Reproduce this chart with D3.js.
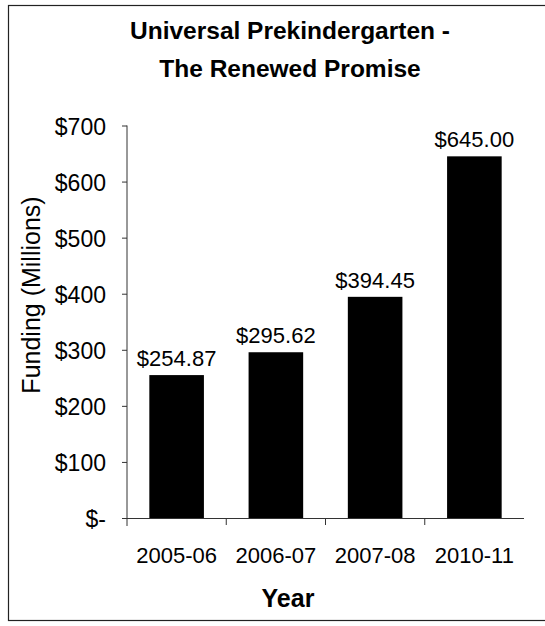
<!DOCTYPE html>
<html>
<head>
<meta charset="utf-8">
<script src="https://cdn.jsdelivr.net/npm/d3@7"></script>
<style>
  body { margin: 0; background: #fff; }
  text { font-family: "Liberation Sans", Arial, sans-serif; fill: #000; }
</style>
</head>
<body>
<svg id="chart" width="545" height="626"></svg>
<script>
const years = ['2005-06', '2006-07', '2007-08', '2010-11']
const funding = [254.87, 295.62, 394.45, 645.00]
const yTicks = [0, 100, 200, 300, 400, 500, 600, 700]

const data = years.map((y, i) => ({ year: y, value: funding[i] }))

const svg = d3.select('#chart')

// frame round the chart (right edge falls outside the picture)
svg.append('rect')
  .attr('x', 8.5).attr('y', 5.5)
  .attr('width', 560).attr('height', 615)
  .attr('fill', 'none').attr('stroke', '#222').attr('stroke-width', 1.2)

const x = d3.scaleBand()
  .domain(years)
  .range([127, 524])
  .paddingInner(0.45)
  .paddingOuter(0.225)

const y = d3.scaleLinear()
  .domain([0, 700])
  .range([518, 125.5])

// title
const title = ['Universal Prekindergarten -', 'The Renewed Promise']
svg.selectAll('.title')
  .data(title)
  .enter()
  .append('text')
    .attr('class', 'title')
    .attr('x', 290)
    .attr('y', (d, i) => 39 + i * 38)
    .attr('text-anchor', 'middle')
    .style('font-size', '24.5px').style('font-weight', 'bold')
    .text((d) => d)

// bars
svg.selectAll('.bar')
  .data(data)
  .enter()
  .append('rect')
    .attr('class', 'bar')
    .attr('x', (d) => x(d.year))
    .attr('y', (d) => y(d.value))
    .attr('width', x.bandwidth())
    .attr('height', (d) => y(0) - y(d.value))
    .attr('fill', '#000')

// value labels
svg.selectAll('.value')
  .data(data)
  .enter()
  .append('text')
    .attr('class', 'value')
    .attr('x', (d) => x(d.year) + x.bandwidth() / 2)
    .attr('y', (d) => y(d.value) - 9)
    .attr('text-anchor', 'middle')
    .style('font-size', '22px')
    .text((d) => '$' + d.value.toFixed(2))

// y axis
const fmt = (v) => (v === 0 ? '$-' : '$' + v)
const yAxis = svg.append('g')
  .attr('transform', 'translate(127,0)')
  .call(d3.axisLeft(y).tickValues(yTicks).tickFormat(fmt).tickSize(5).tickSizeOuter(0).tickPadding(16))
yAxis.select('.domain').attr('stroke', '#333').attr('d', 'M0,' + y(700) + 'V' + (y(0) + 8))
yAxis.selectAll('.tick line').attr('stroke', '#333')
yAxis.selectAll('.tick text').style('font-size', '23px').attr('fill', '#000').attr('dy', '0.38em')

// x axis
const xAxis = svg.append('g')
  .attr('transform', 'translate(0,' + y(0) + ')')
  .call(d3.axisBottom(x).tickSize(0))
xAxis.select('.domain').attr('stroke', '#333').attr('d', 'M127,0.5H524')
xAxis.selectAll('.tick text')
  .style('font-size', '22px').attr('fill', '#000')
  .attr('y', 45).attr('dy', 0)

// category boundary ticks
const bounds = years.slice(1).map((yr) => x(yr) - x.step() * x.paddingInner() / 2)
xAxis.selectAll('.sep')
  .data(bounds)
  .enter()
  .append('line')
    .attr('class', 'sep')
    .attr('x1', (d) => d).attr('x2', (d) => d)
    .attr('y1', 0).attr('y2', 7)
    .attr('stroke', '#333')

// axis titles
svg.append('text')
  .attr('transform', 'translate(40,295) rotate(-90)')
  .attr('text-anchor', 'middle')
  .style('font-size', '25px')
  .text('Funding (Millions)')

svg.append('text')
  .attr('x', 288).attr('y', 607)
  .attr('text-anchor', 'middle')
  .style('font-size', '25px').style('font-weight', 'bold')
  .text('Year')
</script>
</body>
</html>
